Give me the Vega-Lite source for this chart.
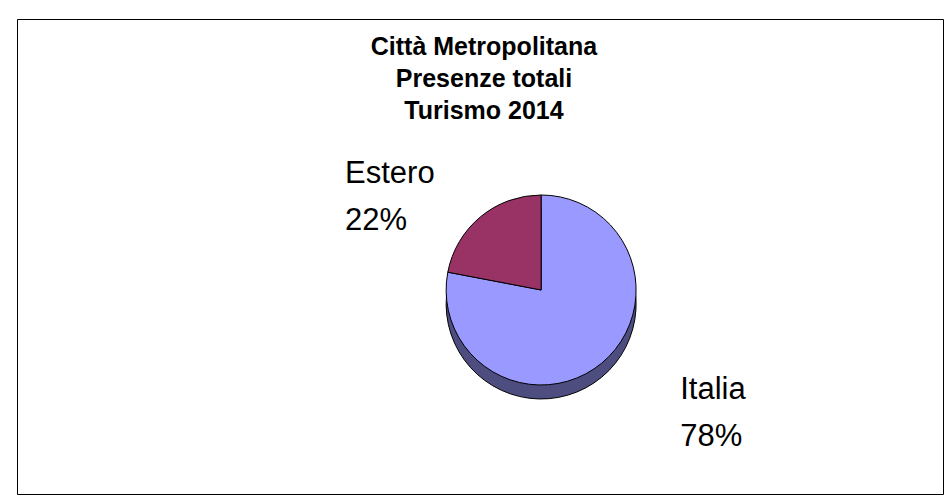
{
  "$schema": "https://vega.github.io/schema/vega-lite/v6.json",
  "width": 946,
  "height": 503,
  "autosize": {"type": "fit", "contains": "padding"},
  "padding": {"left": 17, "top": 19, "right": 3, "bottom": 9},
  "background": "white",
  "view": {"stroke": "black", "strokeWidth": 1, "fill": "white"},
  "title": {
    "text": ["Città Metropolitana", "Presenze totali", "Turismo 2014"],
    "anchor": "middle",
    "orient": "top",
    "offset": -105,
    "dx": 4,
    "font": "Liberation Sans",
    "fontSize": 25,
    "fontWeight": "bold",
    "lineHeight": 32,
    "color": "black"
  },
  "data": {
    "values": [
      {"Provenienza": "Italia", "Quota": 78},
      {"Provenienza": "Estero", "Quota": 22}
    ]
  },
  "transform": [
    {"stack": "Quota", "groupby": [], "as": ["q0", "q1"], "sort": [{"field": "Provenienza", "order": "descending"}]},
    {"calculate": "(datum.q0 + datum.q1) / 2", "as": "qmid"},
    {"calculate": "datum.Provenienza + '\\n' + datum.Quota + '%'", "as": "etichetta"}
  ],
  "layer": [
    {
      "mark": {"type": "arc", "radius": 95, "stroke": "black", "strokeWidth": 1,
               "x": {"expr": "width * 0.566"}, "y": {"expr": "height * 0.5705 + 14"}},
      "encoding": {
        "theta": {"field": "q0", "type": "quantitative", "scale": {"domain": [0, 100]}},
        "theta2": {"field": "q1"},
        "fill": {"field": "Provenienza", "type": "nominal",
                 "scale": {"domain": ["Italia", "Estero"], "range": ["#4D4D80", "#4D1A33"]}, "legend": null}
      }
    },
    {
      "mark": {"type": "arc", "radius": 95, "stroke": "black", "strokeWidth": 1,
               "x": {"expr": "width * 0.566"}, "y": {"expr": "height * 0.5705"}},
      "encoding": {
        "theta": {"field": "q0", "type": "quantitative", "scale": {"domain": [0, 100]}},
        "theta2": {"field": "q1"},
        "color": {"field": "Provenienza", "type": "nominal",
                  "scale": {"domain": ["Italia", "Estero"], "range": ["#9999FF", "#993366"]}, "legend": null}
      }
    },
    {
      "transform": [{"filter": "datum.Provenienza == 'Italia'"}],
      "mark": {"type": "text", "radius": 175, "dx": 27.5, "dy": -25.8, "align": "left", "baseline": "alphabetic",
               "font": "Liberation Sans", "fontSize": 31, "lineHeight": 47, "lineBreak": "\n", "color": "black",
               "x": {"expr": "width * 0.566"}, "y": {"expr": "height * 0.5705"}},
      "encoding": {
        "theta": {"field": "qmid", "type": "quantitative", "scale": {"domain": [0, 100]}},
        "text": {"field": "etichetta", "type": "nominal"}
      }
    },
    {
      "transform": [{"filter": "datum.Provenienza == 'Estero'"}],
      "mark": {"type": "text", "radius": 175, "dx": -84.5, "dy": 27.8, "align": "left", "baseline": "alphabetic",
               "font": "Liberation Sans", "fontSize": 31, "lineHeight": 47, "lineBreak": "\n", "color": "black",
               "x": {"expr": "width * 0.566"}, "y": {"expr": "height * 0.5705"}},
      "encoding": {
        "theta": {"field": "qmid", "type": "quantitative", "scale": {"domain": [0, 100]}},
        "text": {"field": "etichetta", "type": "nominal"}
      }
    }
  ]
}
